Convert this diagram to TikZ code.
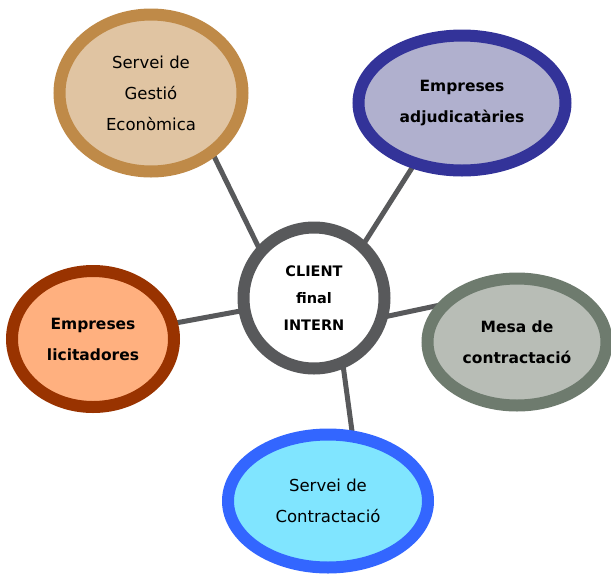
\documentclass[tikz,border=0pt]{standalone}
\usepackage{fontspec}
\setmainfont{DejaVu Sans}
\usetikzlibrary{shapes.geometric,backgrounds}

\definecolor{linkgray}{HTML}{58595B}
\definecolor{gestioborder}{HTML}{BF8A48}
\definecolor{gestiofill}{HTML}{E0C4A2}
\definecolor{adjborder}{HTML}{333399}
\definecolor{adjfill}{HTML}{B0B0CE}
\definecolor{licborder}{HTML}{993300}
\definecolor{licfill}{HTML}{FFB07F}
\definecolor{mesaborder}{HTML}{6E7B6E}
\definecolor{mesafill}{HTML}{B8BDB6}
\definecolor{contborder}{HTML}{3366FF}
\definecolor{contfill}{HTML}{80E5FF}

\tikzset{
  bubble/.style={ellipse, line width=12pt, inner sep=0pt, outer sep=0pt, align=center},
  link/.style={line width=5pt, linkgray},
}

\begin{document}
\begin{tikzpicture}[x=1pt, y=-1pt]
\useasboundingbox (0,0) rectangle (611,574);

% The centre
\node[bubble, draw=linkgray, fill=white, minimum width=141, minimum height=141,
      font=\fontsize{14.5}{27}\selectfont\bfseries] (client) at (314,298)
      {CLIENT\\final\\INTERN};

% The bubbles round it
\node[bubble, draw=gestioborder, fill=gestiofill, minimum width=183, minimum height=157,
      font=\fontsize{16.5}{31}\selectfont] (gestio) at (151,93)
      {Servei de\\Gestió\\Econòmica};
\node[bubble, draw=adjborder, fill=adjfill, minimum width=207, minimum height=135,
      font=\fontsize{15.5}{31}\selectfont\bfseries] (adjud) at (462,103)
      {Empreses\\adjudicatàries};
\node[bubble, draw=licborder, fill=licfill, minimum width=162, minimum height=136,
      font=\fontsize{15.5}{31}\selectfont\bfseries] (licit) at (93,339)
      {Empreses\\licitadores};
\node[bubble, draw=mesaborder, fill=mesafill, minimum width=179, minimum height=127,
      font=\fontsize{15.5}{31}\selectfont\bfseries] (mesa) at (517,342)
      {Mesa de\\contractació};
\node[bubble, draw=contborder, fill=contfill, minimum width=200, minimum height=133,
      font=\fontsize{16.5}{31}\selectfont] (contract) at (328,501)
      {Servei de\\Contractació};

% The links
\begin{scope}[on background layer]
\draw[link] (client.139) -- (gestio.-44);
\draw[link] (client.47) -- (adjud.-128);
\draw[link] (client.190) -- (licit.11);
\draw[link] (client.-16) -- (mesa.152);
\draw[link] (client.-66) -- (contract.69);
\end{scope}

\end{tikzpicture}
\end{document}
